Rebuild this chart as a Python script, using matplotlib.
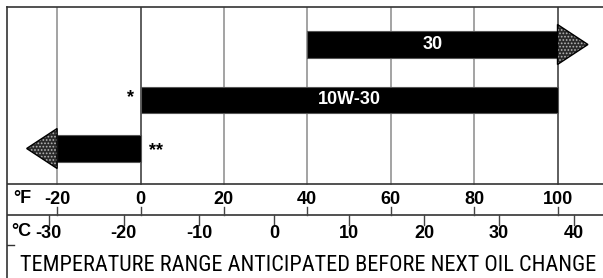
import matplotlib
matplotlib.use('Agg')
import matplotlib.pyplot as plt
from matplotlib.patches import Rectangle, Polygon

# oil grades and the temperature span (deg F) each one covers
grades = ['30', '10W-30', '']
f_start = [40, 0, 0]
f_end = [100, 100, -20]
open_ended = [True, False, True]
notes = ['', '*', '**']

f_ticks = [-20, 0, 20, 40, 60, 80, 100]
c_ticks = [-30, -20, -10, 0, 10, 20, 30, 40]
title = 'TEMPERATURE RANGE ANTICIPATED BEFORE NEXT OIL CHANGE'


def c_to_f(c):
    return c * 9.0 / 5.0 + 32.0


# layout (pixel rows, measured from the top of the picture)
W, H = 603, 278
left_px, top_px = 7.3, 7.3
px_per_f, zero_f_px = 4.17, 140.5
row_y = [44.5, 100, 148.5]
bar_h, head_h, head_len = 26.7, 40, 7.3
plot_bottom, f_row_bottom = 184, 215
f_label_y, c_label_y, title_y = 199.5, 233, 265.5
title_width_px = 576

plt.rcParams['hatch.linewidth'] = 0.8
bold = dict(family=['Liberation Sans', 'DejaVu Sans'], weight='bold', size=13)

fig = plt.figure(figsize=(W / 100, H / 100), dpi=100)
ax = fig.add_axes([left_px / W, 0, 1 - left_px / W, 1 - top_px / H])
xmin = (left_px - zero_f_px) / px_per_f
ax.set_xlim(xmin, (W - zero_f_px) / px_per_f)
ax.set_ylim(H, top_px)
for side in ['right', 'bottom']:
    ax.spines[side].set_visible(False)
for side in ['left', 'top']:
    ax.spines[side].set_color('#333333')
    ax.spines[side].set_linewidth(1.2)
ax.set_xticks([])
ax.set_yticks([])
ax.plot([xmin, xmin + 1.5], [245, 245], color='#333333', lw=1)

# grid lines in the chart area
for f in f_ticks:
    col = '#333333' if f in (0, 100) else '#8a8a8a'
    ax.plot([f, f], [top_px, plot_bottom], color=col, lw=1.1, zorder=1)
ax.axhline(plot_bottom, color='#333333', lw=1.2)
ax.axhline(f_row_bottom, color='#333333', lw=1.2)

# bars with arrow heads for open ranges
for g, a, b, arrow, note, y in zip(grades, f_start, f_end, open_ended, notes, row_y):
    ax.add_patch(Rectangle((min(a, b), y - bar_h / 2), abs(b - a), bar_h,
                           facecolor='black', edgecolor='#555555', lw=0.8, zorder=3))
    if arrow:
        d = 1 if b > a else -1
        pts = [(b, y - head_h / 2), (b + d * head_len, y), (b, y + head_h / 2)]
        ax.add_patch(Polygon(pts, closed=True, facecolor='#2a2a2a', edgecolor='#b5b5b5',
                             hatch='.....', lw=0, zorder=3))
        ax.add_patch(Polygon(pts, closed=True, fill=False, edgecolor='black', lw=1, zorder=3))
    if g:
        ax.text((a + b) / 2, y, g, color='white', ha='center', va='center', zorder=4, **bold)
    if note:
        if b > a:
            ax.text(a - 1.6, y - 2, note, ha='right', va='center', **bold)
        else:
            ax.text(a + 2, y + 2, note, ha='left', va='center', **bold)

# Fahrenheit scale
for f in f_ticks:
    ax.plot([f, f], [207, f_row_bottom], color='#444444', lw=1)
    ax.text(f, f_label_y, str(f), ha='center', va='center', **bold)
ax.text(-30.5, f_label_y - 1, '°F', ha='left', va='center', **bold)

# Celsius scale
for c in c_ticks:
    ax.plot([c_to_f(c)] * 2, [f_row_bottom, 225], color='#444444', lw=1)
    ax.text(c_to_f(c), c_label_y, str(c), ha='center', va='center', **bold)
ax.text(-30.9, c_label_y - 1, '°C', ha='left', va='center', **bold)

t = ax.text(40.3, title_y, title, ha='center', va='center', color='black',
            family=['Roboto Condensed', 'Liberation Sans'], size=17)
# no condensed face may be installed, so shrink the title to the reference width
renderer = fig.canvas.get_renderer()
w = t.get_window_extent(renderer).width
if w > title_width_px:
    t.set_fontsize(17 * title_width_px / w)

fig.savefig('out.png', dpi=100)
